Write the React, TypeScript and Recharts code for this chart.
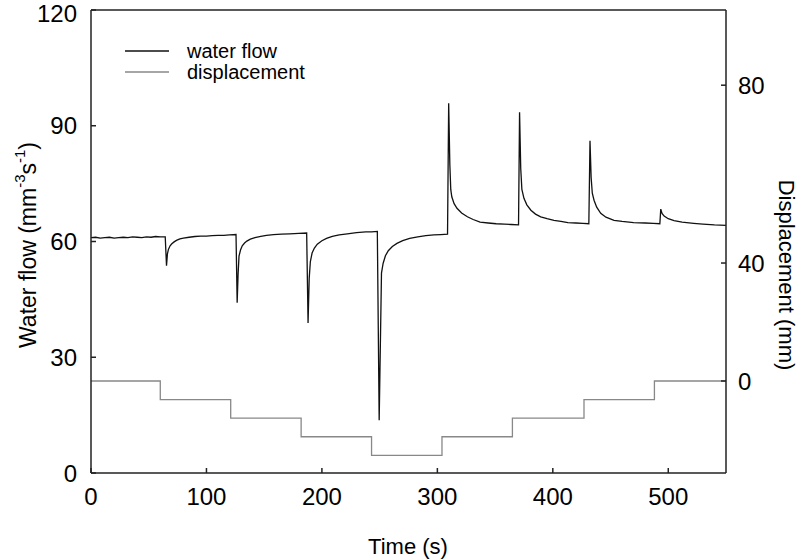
import { LineChart, Line, XAxis, YAxis, ReferenceLine, Legend } from 'recharts';

// water flow trace (time in s, flow in mm-3 s-1)
const flowTime = [
    0, 4, 8, 12, 16, 20, 24, 28, 32, 36, 40, 44, 48, 52, 56, 60, 64.3,
    65.4, 66.2, 67, 68.5, 70, 72, 74, 77, 80, 85, 90, 95, 100, 105, 110, 115, 120, 125.6,
    126.6, 127.4, 128.2, 129.5, 131, 133, 135, 138, 142, 147, 152, 158, 165, 172, 180, 186.8,
    188, 189, 190, 191.5, 193.5, 196, 200, 204, 209, 215, 222, 230, 238, 243, 248,
    249.6, 251.6, 253, 255, 257.5, 261, 265, 270, 276, 283, 290, 297, 303, 308.8,
    309.8, 310.8, 311.6, 312.5, 314.5, 317, 321, 326, 331, 337, 344, 351, 358, 364, 370.3,
    371.2, 372.2, 373.2, 375, 377.5, 381, 385, 389.5, 395, 401, 407, 413, 420, 426, 431.2,
    432.2, 433.2, 434.2, 435.7, 438, 441.5, 446, 453, 460, 470, 480, 487, 492.7,
    493.5, 494.6, 496.4, 500, 505, 512, 522, 530, 540, 550,
];
const flowValue = [
    61.0, 61.1, 60.9, 61.0, 61.1, 60.9, 61.0, 61.1, 61.0, 61.2, 61.1, 61.0, 61.2, 61.1, 61.3, 61.2, 61.2,
    53.7, 56.8, 57.9, 58.9, 59.4, 59.9, 60.3, 60.7, 60.9, 61.1, 61.3, 61.4, 61.4, 61.5, 61.6, 61.6, 61.7, 61.8,
    44.1, 51.5, 56.2, 57.8, 58.9, 59.6, 60.1, 60.6, 61.0, 61.3, 61.6, 61.8, 61.9, 62.0, 62.1, 62.2,
    38.9, 50.5, 54.8, 57.0, 58.3, 59.3, 60.2, 60.8, 61.3, 61.7, 62.0, 62.3, 62.5, 62.5, 62.6,
    13.7, 51.8, 54.3, 56.3, 57.6, 58.7, 59.5, 60.2, 60.8, 61.2, 61.5, 61.7, 61.8, 61.9,
    95.8, 80.0, 73.5, 71.6, 69.8, 68.6, 67.4, 66.4, 65.7, 65.0, 64.8, 64.6, 64.5, 64.4, 64.3,
    93.5, 79.0, 73.5, 71.2, 69.5, 68.1, 67.1, 66.4, 65.9, 65.5, 65.2, 64.9, 64.8, 64.7, 64.6,
    86.1, 76.5, 72.5, 70.7, 68.9, 67.3, 66.3, 65.5, 65.2, 64.9, 64.8, 64.7, 64.6,
    68.4, 67.3, 66.6, 65.9, 65.4, 65.0, 64.7, 64.5, 64.3, 64.2,
];

// displacement steps (time in s, displacement in mm)
const dispTime = [0, 60, 121, 182, 243, 304, 365, 427, 488, 550];
const dispValue = [0, -6.3, -12.6, -18.9, -25.2, -18.9, -12.6, -6.3, 0, 0];

const timeTicks = [0, 100, 200, 300, 400, 500];
const flowTicks = [0, 30, 60, 90, 120];
const dispTickPos = [0, 40, 100.3];
const dispTickLabels = ['0', '40', '80'];
const legendOrder = ['water flow', 'displacement'];

const flowData = flowTime.map((t, i) => ({ t, v: flowValue[i] }));
const dispData = dispTime.map((t, i) => ({ t, v: dispValue[i] }));

const AXIS = '#222';
const FONT = '"Liberation Sans", Arial, sans-serif';

const renderLegend = (props: any) => {
    const items = [...(props.payload || [])].sort(
        (a: any, b: any) => legendOrder.indexOf(a.value) - legendOrder.indexOf(b.value)
    );
    return (
        <svg width={240} height={50}>
            {items.map((e: any, i: number) => (
                <g key={e.value}>
                    <line x1={0} x2={44} y1={10 + i * 21} y2={10 + i * 21} stroke={e.color} strokeWidth={1.3} />
                    <text x={62} y={10 + i * 21} dominantBaseline="central" fontSize={20} fill="#000">
                        {e.value}
                    </text>
                </g>
            ))}
        </svg>
    );
};

const flowTitle = () => (
    <text x={28} y={245} transform="rotate(-90 28 245)" textAnchor="middle" dominantBaseline="central" fontSize={23} fill="#000">
        Water flow (mm
        <tspan fontSize={15} dy={-9}>-3</tspan>
        <tspan dy={9}>s</tspan>
        <tspan fontSize={15} dy={-9}>-1</tspan>
        <tspan dy={9}>)</tspan>
    </text>
);

const dispTitle = () => (
    <text x={786} y={275} transform="rotate(90 786 275)" textAnchor="middle" dominantBaseline="central" fontSize={22} fill="#000">
        Displacement (mm)
    </text>
);

const timeTitle = () => (
    <text x={408} y={546} textAnchor="middle" dominantBaseline="central" fontSize={22} fill="#000">
        Time (s)
    </text>
);

export default function App() {
    return (
        <div style={{ position: 'absolute', left: 0, top: 0, fontFamily: FONT, background: '#fff' }}>
            <LineChart width={800} height={560} margin={{ top: 10, right: 0, bottom: 0, left: 0 }}>
                <XAxis
                    dataKey="t"
                    type="number"
                    domain={[0, 550]}
                    ticks={timeTicks}
                    height={87}
                    allowDataOverflow
                    stroke={AXIS}
                    strokeWidth={1.5}
                    tickSize={-5}
                    tickMargin={20}
                    tick={{ fill: '#000', fontSize: 24 }}
                    label={{ content: timeTitle }}
                />
                <YAxis
                    yAxisId="flow"
                    orientation="left"
                    width={91}
                    domain={[0, 120]}
                    ticks={flowTicks}
                    allowDataOverflow
                    stroke={AXIS}
                    strokeWidth={1.5}
                    tickSize={-5}
                    tickMargin={19}
                    tick={{ fill: '#000', fontSize: 24 }}
                    label={{ content: flowTitle }}
                />
                <YAxis
                    yAxisId="disp"
                    orientation="right"
                    width={74}
                    domain={[-31.2, 125.8]}
                    ticks={dispTickPos}
                    allowDataOverflow
                    stroke={AXIS}
                    strokeWidth={1.5}
                    tickSize={-5}
                    tickMargin={17}
                    tick={{ fill: '#000', fontSize: 24 }}
                    tickFormatter={(v: number) => dispTickLabels[dispTickPos.indexOf(v)] ?? String(v)}
                    label={{ content: dispTitle }}
                />
                <ReferenceLine yAxisId="flow" y={120} stroke={AXIS} strokeWidth={1.5} />
                <Line
                    yAxisId="flow"
                    data={flowData}
                    dataKey="v"
                    name="water flow"
                    type="linear"
                    stroke="#111"
                    strokeWidth={1.3}
                    dot={false}
                    isAnimationActive={false}
                />
                <Line
                    yAxisId="disp"
                    data={dispData}
                    dataKey="v"
                    name="displacement"
                    type="stepAfter"
                    stroke="#888"
                    strokeWidth={1.3}
                    dot={false}
                    isAnimationActive={false}
                />
                <Legend
                    layout="horizontal"
                    verticalAlign="middle"
                    align="center"
                    content={renderLegend}
                    wrapperStyle={{ position: 'absolute', left: 125, top: 40.7, width: 240, height: 50 }}
                />
            </LineChart>
        </div>
    );
}
